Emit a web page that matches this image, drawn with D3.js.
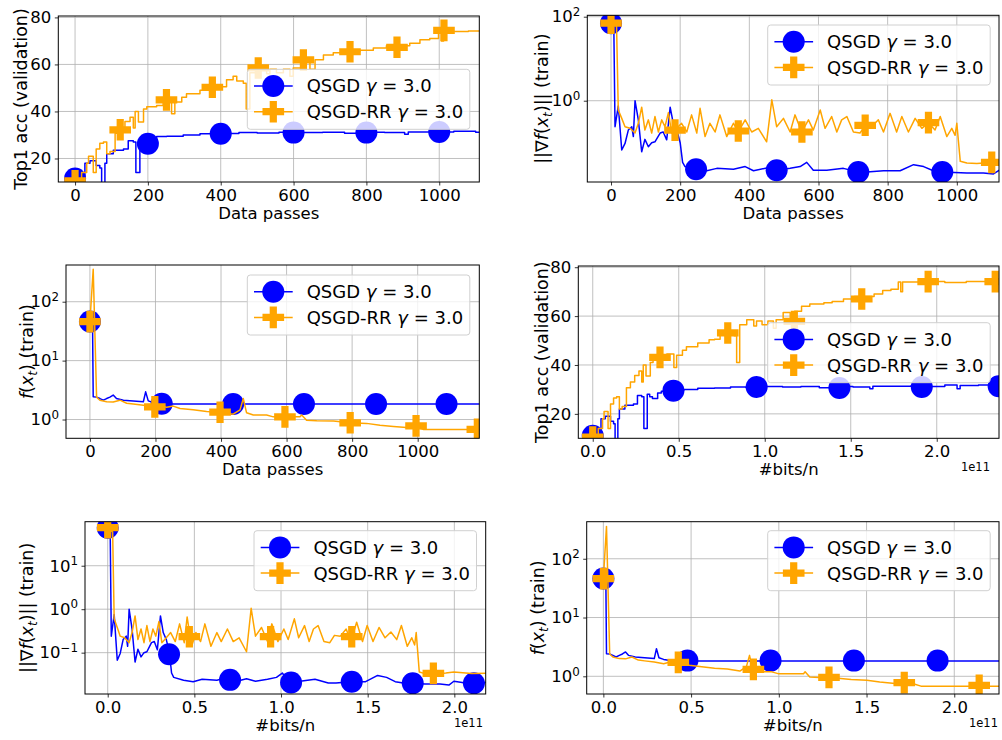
<!DOCTYPE html>
<html>
<head>
<meta charset="utf-8">
<script src="https://cdn.jsdelivr.net/npm/d3@7"></script>
<style>
  body { margin: 0; background: #fff; }
</style>
</head>
<body>
<svg id="chart" width="1002" height="740"></svg>
<script>
const BITS_PER_PASS = 1.78e8;

// Top1 validation accuracy vs data passes
const accQsgd = [[0,11.5],[12,12],[27,18],[41,19],[58,17],[68,16],[73,9],[82,18],[87,22],[105,23.5],[133,24],[146,27.5],[160,27],[167,14],[178,28],[186,27],[195,26.3],[212,28.5],[224,29.3],[252,29.5],[297,30],[343,30.5],[398,30.6],[450,31],[500,30.8],[560,31.2],[620,31],[680,31.2],[740,30.7],[790,31.2],[850,31],[905,30.3],[915,31.3],[980,31.3],[1040,31.6],[1100,31.2],[1150,31.8],[1190,30.3],[1200,31.6],[1260,31.8],[1300,31.5],[1340,31.5]];
const accQsgdRR = [[0,10.5],[18,14],[32,18],[37,21],[50,14],[58,24],[68,26.5],[78,27],[87,22],[96,23],[110,30.7],[123,33],[137,35.7],[151,37.5],[160,33],[165,40],[174,35.5],[188,41],[197,42],[224,42.5],[242,44.5],[265,39],[274,44],[293,46],[306,47.5],[343,49],[380,50.3],[398,50.5],[416,53.5],[434,55],[444,53],[462,52],[470,41],[480,56.5],[503,58.5],[526,56],[535,58],[553,56.5],[572,58],[590,55],[599,58.5],[622,61.5],[645,58],[659,62],[682,64],[709,65],[755,65.5],[782,66],[819,67],[855,68],[919,69],[947,70.5],[974,71],[998,74],[1006,70],[1012,74],[1080,74.2],[1150,73.8],[1220,74.2],[1290,74],[1340,74]];

// gradient norm (train) vs data passes
const gradQsgd = [[0,70],[8,65],[11.6,0.24],[21,0.75],[31,0.067],[40.5,0.096],[50,0.2],[60,0.24],[64.6,0.14],[69.4,1.0],[79,0.35],[88.7,0.061],[98,0.12],[108,0.08],[117.6,0.1],[127,0.105],[142,0.17],[151,0.18],[161,0.117],[171,0.7],[180,0.29],[190,0.2],[200,0.1],[207,0.034],[214,0.027],[246,0.0233],[277,0.0215],[306,0.0245],[354,0.0233],[388,0.027],[412,0.0215],[450,0.025],[479,0.022],[518,0.0245],[547,0.027],[566,0.034],[585,0.022],[624,0.022],[672,0.0245],[715,0.02],[740,0.02],[788,0.0215],[836,0.0215],[875,0.03],[904,0.027],[932,0.0215],[958,0.02],[1029,0.019],[1077,0.019],[1106,0.018],[1122,0.022],[1160,0.02],[1200,0.019],[1240,0.022],[1280,0.019],[1340,0.02]];
const gradQsgdRR = [[0,70],[16,60],[21,0.6],[31,0.38],[40.5,0.24],[55,0.22],[69.4,0.17],[79,0.29],[88.7,0.7],[98,0.2],[108,0.35],[117.6,0.17],[127,0.42],[137,0.18],[146.6,0.35],[156,0.24],[166,0.52],[175.5,0.17],[185,0.2],[204,0.29],[219,0.18],[233,0.46],[248,0.17],[257.5,0.66],[272,0.14],[286,0.29],[301,0.18],[315,0.46],[334.6,0.14],[354,0.29],[368,0.18],[388,0.35],[407,0.18],[426,0.22],[450,0.105],[465,1.05],[479,0.24],[498.6,0.38],[518,0.18],[532,0.46],[551.6,0.18],[571,0.35],[585,0.2],[605,0.6],[619,0.22],[638,0.42],[653,0.18],[667,0.35],[682,0.42],[701,0.18],[720,0.17],[735,0.25],[754,0.24],[773,0.35],[788,0.18],[807,0.5],[826,0.18],[841,0.42],[860,0.18],[879.5,0.38],[899,0.22],[918,0.3],[937,0.2],[952,0.42],[971,0.14],[985.5,0.22],[995,0.15],[1000,0.29],[1010,0.036],[1029,0.033],[1058,0.032],[1096,0.034],[1122,0.036],[1180,0.033],[1240,0.034],[1340,0.033]];

// loss f(x_t) (train) vs data passes
const lossQsgd = [[0,46],[8,40],[10,2.43],[20,2.4],[30.5,2.27],[40.7,2.13],[51,2.27],[61,2.4],[71,2.6],[81,2.27],[102,2.13],[132,2.07],[163,2.0],[170,2.95],[178,2.07],[193,1.94],[214,1.85],[240,1.83],[1340,1.83]];
const lossQsgdRR = [[0,46],[10,355],[20.3,2.4],[30.5,2.13],[51,2.0],[71,1.98],[91.5,2.13],[112,1.89],[132,1.83],[163,1.75],[193,1.64],[214,1.75],[234,1.61],[254,1.69],[275,1.54],[315,1.46],[356,1.37],[397,1.33],[437,1.23],[458,1.46],[468,2.27],[478,1.3],[498.5,1.19],[539,1.19],[559.5,1.11],[600,1.11],[641,1.11],[646,1.19],[661,0.97],[692,0.95],[743,0.94],[793.5,0.88],[844,0.86],[885,0.8],[926,0.76],[966,0.73],[995,0.74],[1017,0.68],[1340,0.68]];

const seriesNames = ['QSGD', 'QSGD-RR'];
const gammaText = '3.0';
const colors = ['#0000ff', '#ffa500'];

// tick values
const passTicks = [0, 200, 400, 600, 800, 1000];
const bitTicks = [0, 0.5e11, 1e11, 1.5e11, 2e11];
const accTicks = [20, 40, 60, 80];

// markers of each panel: [x in that panel's units (passes or bits/1e11), value]
const p1Marks = [[[0,11.5],[200,26.3],[400,30.5],[600,31],[800,31],[1000,31.3]],
                 [[0,10.5],[124,32.2],[251,44.9],[377,50.3],[503,58.5],[627,61.9],[755,65.4],[884,67.3],[1013,74.5]]];
const p2Marks = [[[0,70],[246,0.0233],[479,0.022],[715,0.02],[958,0.02]],
                 [[0,70],[185,0.2],[368,0.19],[552,0.18],[735,0.26],[918,0.3],[1101,0.034]]];
const p3Marks = [[[0,46],[219,1.85],[437,1.83],[653,1.83],[873,1.83],[1088,1.83]],
                 [[0,46],[198,1.64],[397,1.33],[595,1.11],[794,0.88],[995,0.78],[1182,0.68]]];
const p4Marks = [[[0,11],[0.469,29.5],[0.953,31],[1.434,30.6],[1.913,31],[2.36,31.3]],
                 [[0,10.5],[0.391,43.1],[0.785,53.1],[1.172,57.8],[1.564,67],[1.95,74.1],[2.34,74.1]]];
const p5Marks = [[[0,75],[0.354,0.092],[0.706,0.0237],[1.058,0.0205],[1.408,0.0215],[1.76,0.0197],[2.113,0.0197]],
                 [[0,75],[0.471,0.233],[0.94,0.233],[1.408,0.233],[1.879,0.0335]]];
const p6Marks = [[[0,46],[0.479,1.85],[0.953,1.85],[1.428,1.85],[1.905,1.85]],
                 [[0,46],[0.427,1.73],[0.855,1.31],[1.286,0.96],[1.715,0.78],[2.142,0.7]]];

const panels = [
  {box:[58.3,16,479.3,182], xMode:'pass', xDomain:[-46,1110], yLog:false, yDomain:[10,80.6], yTicks:accTicks,
   series:[accQsgd,accQsgdRR], step:true, marks:p1Marks, yLabel:'acc', yLabelX:20.7, legend:[247.3,69.3]},
  {box:[587.3,15.3,999,182], xMode:'pass', xDomain:[-68.6,1122], yLog:true, yDomain:[0.0116,108], yTicks:[1,100],
   series:[gradQsgd,gradQsgdRR], step:false, marks:p2Marks, yLabel:'grad', yLabelX:541.7, legend:[767.7,25]},
  {box:[66,265,479.3,438.3], xMode:'pass', xDomain:[-73,1188], yLog:true, yDomain:[0.48,420], yTicks:[1,10,100],
   series:[lossQsgd,lossQsgdRR], step:false, marks:p3Marks, yLabel:'loss', yLabelX:26.7, legend:[247.3,275]},
  {box:[578.3,266,999,438.3], xMode:'bits', xDomain:[-0.084e11,2.362e11], yLog:false, yDomain:[10,80.5], yTicks:accTicks,
   series:[accQsgd,accQsgdRR], step:true, marks:p4Marks, yLabel:'acc', yLabelX:541.7, legend:[767.7,322.7], offX:990},
  {box:[85,521.7,485.7,694], xMode:'bits', xDomain:[-0.131e11,2.181e11], yLog:true, yDomain:[0.0112,103], yTicks:[0.1,1,10],
   series:[gradQsgd,gradQsgdRR], step:false, marks:p5Marks, yLabel:'grad', yLabelX:26.7, legend:[254,530.7], offX:483},
  {box:[586.7,521.7,999,694], xMode:'bits', xDomain:[-0.095e11,2.255e11], yLog:true, yDomain:[0.5,427], yTicks:[1,10,100],
   series:[lossQsgd,lossQsgdRR], step:false, marks:p6Marks, yLabel:'loss', yLabelX:538, legend:[767.7,530.7], offX:998}
];

const FONT = '"DejaVu Sans", sans-serif';
const TICK_FS = 16.5, LABEL_FS = 16.5, YLABEL_FS = 17.5, LEGEND_FS = 18;
const symbols = [d3.symbol(d3.symbolCircle, Math.PI * 11 * 11)(), d3.symbol(d3.symbolCross, 260)()];

const svg = d3.select('#chart').style('font-family', FONT);

function styleAxis(sel) {
  sel.attr('font-family', null);
  sel.select('.domain').remove();
  sel.selectAll('.tick line').attr('stroke', '#000').attr('stroke-width', 0.8);
  sel.selectAll('.tick text').attr('font-size', TICK_FS).style('font-family', FONT).attr('fill', '#000');
}

function yLabel(g, kind, cx, cy) {
  const fs = YLABEL_FS;
  const t = g.append('text').attr('transform', `translate(${cx},${cy}) rotate(-90)`)
    .attr('y', 0.36 * fs).attr('text-anchor', 'middle').attr('font-size', fs).style('font-family', FONT);
  const sub = (s) => {
    t.append('tspan').attr('font-style', 'italic').attr('font-size', fs * 0.7).attr('dy', fs * 0.22).text(s);
  };
  if (kind === 'acc') { t.text('Top1 acc (validation)'); return; }
  if (kind === 'grad') t.append('tspan').text('||∇');
  t.append('tspan').attr('font-style', 'italic').text('f');
  t.append('tspan').text('(');
  t.append('tspan').attr('font-style', 'italic').text('x');
  sub('t');
  t.append('tspan').attr('dy', -fs * 0.22).text(kind === 'grad' ? ')|| (train)' : ') (train)');
}

function legend(g, lx, ly) {
  const lg = g.append('g').attr('transform', `translate(${lx},${ly})`);
  lg.append('rect').attr('width', 222.5).attr('height', 60).attr('rx', 3)
    .attr('fill', '#fff').attr('fill-opacity', 0.8).attr('stroke', '#d0d0d0').attr('stroke-width', 1);
  seriesNames.forEach((name, j) => {
    const ry = 16.7 + j * 25.7;
    lg.append('line').attr('x1', 6.7).attr('x2', 45.4).attr('y1', ry).attr('y2', ry)
      .attr('stroke', colors[j]).attr('stroke-width', 1.5);
    lg.append('path').attr('d', symbols[j]).attr('transform', `translate(26,${ry})`).attr('fill', colors[j]);
    const t = lg.append('text').attr('x', 59.4).attr('y', ry + 0.36 * LEGEND_FS)
      .attr('font-size', LEGEND_FS).style('font-family', FONT);
    t.append('tspan').text(name + ' ');
    t.append('tspan').attr('font-style', 'italic').text('γ');
    t.append('tspan').text(' = ' + gammaText);
  });
}

panels.forEach((p, k) => {
  const [l, t, r, b] = p.box;
  const toX = p.xMode === 'bits' ? d => d * BITS_PER_PASS : d => d;
  const markX = p.xMode === 'bits' ? d => d * 1e11 : d => d;
  const x = d3.scaleLinear().domain(p.xDomain).range([l, r]);
  const y = (p.yLog ? d3.scaleLog() : d3.scaleLinear()).domain(p.yDomain).range([b, t]);
  const xTicks = p.xMode === 'bits' ? bitTicks : passTicks;
  const g = svg.append('g');

  g.append('clipPath').attr('id', 'clip' + k).append('rect')
    .attr('x', l).attr('y', t).attr('width', r - l).attr('height', b - t);

  // grid
  const grid = g.append('g').attr('stroke', '#b0b0b0').attr('stroke-width', 0.8);
  grid.selectAll('.gx').data(xTicks).join('line')
    .attr('x1', d => x(d)).attr('x2', d => x(d)).attr('y1', t).attr('y2', b);
  grid.selectAll('.gy').data(p.yTicks).join('line')
    .attr('x1', l).attr('x2', r).attr('y1', d => y(d)).attr('y2', d => y(d));

  // axes
  const xAxis = d3.axisBottom(x).tickValues(xTicks).tickSize(3.5).tickPadding(3.5)
    .tickFormat(p.xMode === 'bits' ? d => (d / 1e11).toFixed(1) : d3.format('d'));
  g.append('g').attr('transform', `translate(0,${b})`).call(xAxis).call(styleAxis);

  const yAxis = d3.axisLeft(y).tickValues(p.yTicks).tickSize(3.5).tickPadding(3.5)
    .tickFormat(d => p.yLog ? '' : d3.format('d')(d));
  const ya = g.append('g').attr('transform', `translate(${l},0)`).call(yAxis).call(styleAxis);
  if (p.yLog) {
    ya.selectAll('.tick text').each(function (d) {
      const e = Math.round(Math.log10(d));
      const txt = d3.select(this);
      txt.text('10');
      txt.append('tspan').attr('dy', '-0.55em').attr('font-size', TICK_FS * 0.72)
        .text(e < 0 ? '\u2212' + (-e) : String(e));
    });
  }

  // data
  const body = g.append('g').attr('clip-path', `url(#clip${k})`);
  p.series.forEach((s, j) => {
    const line = d3.line().x(d => x(toX(d[0]))).y(d => y(d[1]))
      .curve(p.step ? d3.curveStepAfter : d3.curveLinear);
    body.append('path').datum(s).attr('d', line).attr('fill', 'none')
      .attr('stroke', colors[j]).attr('stroke-width', 1.5).attr('stroke-linejoin', 'round');
    body.selectAll(null).data(p.marks[j]).join('path')
      .attr('transform', d => `translate(${x(markX(d[0]))},${y(d[1])})`)
      .attr('d', symbols[j]).attr('fill', colors[j]);
  });

  // frame
  g.append('rect').attr('x', l).attr('y', t).attr('width', r - l).attr('height', b - t)
    .attr('fill', 'none').attr('stroke', '#000').attr('stroke-width', 1);

  // labels
  g.append('text').attr('x', (l + r) / 2).attr('y', b + 37).attr('text-anchor', 'middle')
    .attr('font-size', LABEL_FS).style('font-family', FONT)
    .text(p.xMode === 'bits' ? '#bits/n' : 'Data passes');
  if (p.xMode === 'bits') {
    g.append('text').attr('x', p.offX).attr('y', b + 33).attr('text-anchor', 'end')
      .attr('font-size', 11.5).style('font-family', FONT).text('1e11');
  }
  yLabel(g, p.yLabel, p.yLabelX, (t + b) / 2);
  legend(g, p.legend[0], p.legend[1]);
});
</script>
</body>
</html>
